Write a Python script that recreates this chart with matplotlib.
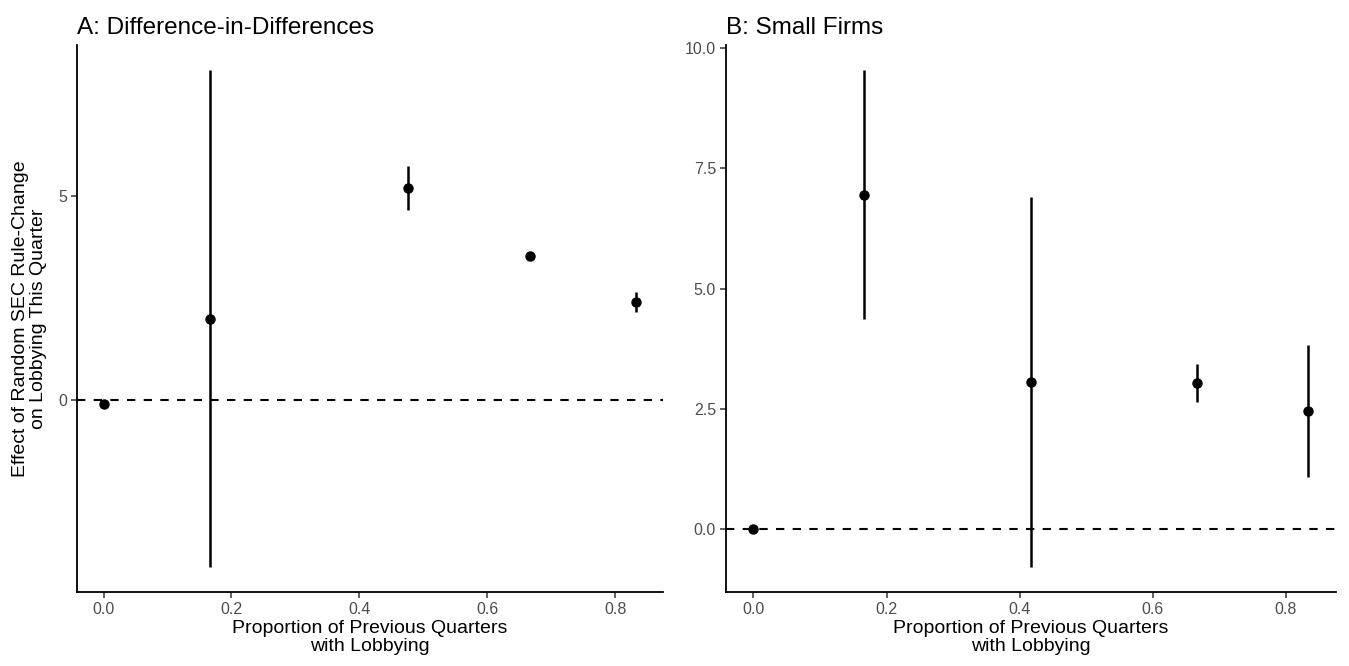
import matplotlib.pyplot as plt
import numpy as np

plt.rcParams['font.family'] = ['Liberation Sans', 'DejaVu Sans']

# panel A: difference-in-differences
a_x = [0.0, 1/6, 0.476, 2/3, 5/6]
a_y = [-0.10, 1.99, 5.20, 3.52, 2.41]
a_lo = [-0.10, -4.10, 4.66, 3.52, 2.16]
a_hi = [-0.10, 8.09, 5.74, 3.52, 2.65]

# panel B: small firms
b_x = [0.0, 1/6, 5/12, 2/3, 5/6]
b_y = [0.0, 6.94, 3.06, 3.04, 2.46]
b_lo = [0.0, 4.37, -0.79, 2.64, 1.09]
b_hi = [0.0, 9.54, 6.90, 3.43, 3.83]

x_ticks = [0.0, 0.2, 0.4, 0.6, 0.8]
a_yticks = [0, 5]
b_yticks = [0.0, 2.5, 5.0, 7.5, 10.0]

fig = plt.figure(figsize=(13.49, 6.66), dpi=100)
ax1 = fig.add_axes([0.057, 0.111, 0.4345, 0.821])
ax2 = fig.add_axes([0.538, 0.111, 0.452, 0.821])


def panel(ax, x, y, lo, hi, title, yticks, fmt):
    x = np.array(x)
    y = np.array(y)
    lo = np.array(lo)
    hi = np.array(hi)
    ax.axhline(0, color='black', ls=(0, (4, 4)), lw=1.5, zorder=1)
    ax.vlines(x, lo, hi, color='black', lw=1.8, zorder=2)
    ax.plot(x, y, 'o', color='black', ms=6.5, zorder=3)
    xr = x.max() - x.min()
    ax.set_xlim(x.min() - 0.05 * xr, x.max() + 0.05 * xr)
    yr = hi.max() - lo.min()
    ax.set_ylim(lo.min() - 0.05 * yr, hi.max() + 0.05 * yr)
    ax.set_xticks(x_ticks)
    ax.set_xticklabels([f'{t:.1f}' for t in x_ticks])
    ax.set_yticks(yticks)
    ax.set_yticklabels([fmt.format(t) for t in yticks])
    for s in ['top', 'right']:
        ax.spines[s].set_visible(False)
    for s in ['left', 'bottom']:
        ax.spines[s].set_linewidth(1.3)
    ax.tick_params(colors='#333333', labelcolor='#4D4D4D', labelsize=11.5,
                   length=4, width=1.1, pad=3)
    ax.set_title(title, loc='left', fontsize=17.5, pad=8)
    ax.set_xlabel('Proportion of Previous Quarters\nwith Lobbying', fontsize=14,
                  labelpad=2, linespacing=1.1)


panel(ax1, a_x, a_y, a_lo, a_hi, 'A: Difference-in-Differences', a_yticks, '{:.0f}')
panel(ax2, b_x, b_y, b_lo, b_hi, 'B: Small Firms', b_yticks, '{:.1f}')

ax1.set_ylabel('Effect of Random SEC Rule-Change\non Lobbying This Quarter',
               fontsize=14, labelpad=8, linespacing=1.1)

fig.savefig('out.png', dpi=100)
